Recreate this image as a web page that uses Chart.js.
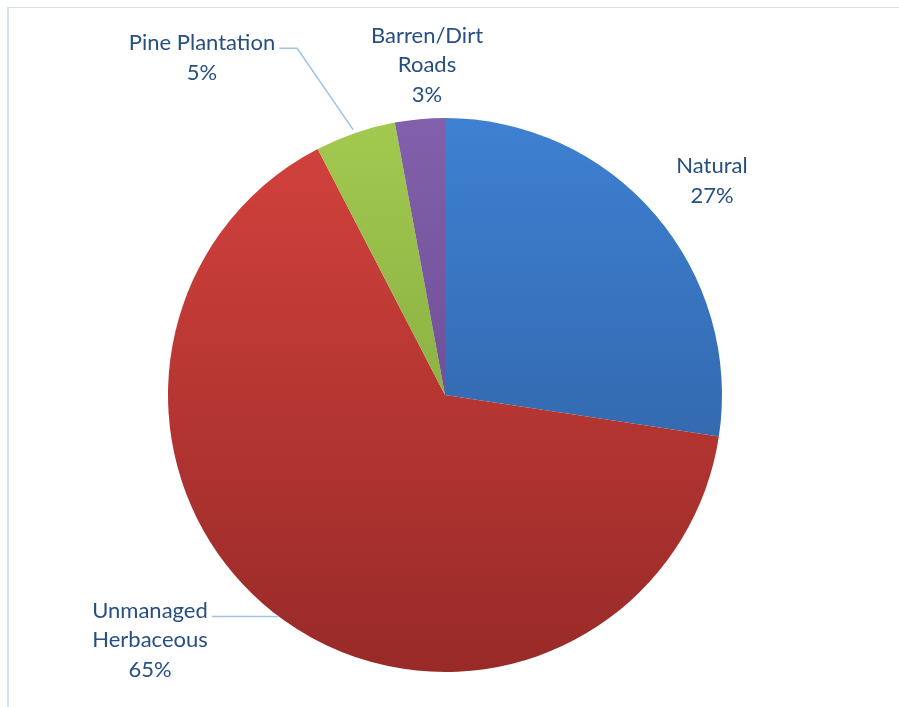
<!DOCTYPE html>
<html>
<head>
<meta charset="utf-8">
<script src="https://cdn.jsdelivr.net/npm/chart.js@4"></script>
<style>
  html, body { margin: 0; padding: 0; background: #fff; }
  #wrap { position: relative; width: 899px; height: 707px; }
  #frame { position: absolute; left: 7px; top: 7px; right: 0; bottom: 0;
           border-top: 1px solid #d5dfec; border-left: 2px solid #d5dfec; }
  canvas { position: absolute; left: 0; top: 0; }
</style>
</head>
<body>
<div id="wrap">
  <div id="frame"></div>
  <canvas id="landUseChart" width="899" height="707"></canvas>
</div>
<script>
// Datos del gráfico (en el sentido de las agujas del reloj desde las 12)
const categorias = ['Natural', 'Unmanaged Herbaceous', 'Pine Plantation', 'Barren/Dirt Roads'];
const valores = [27.4, 65.0, 4.7, 2.9];
const etiquetas = [['Natural', '27%'], ['Unmanaged', 'Herbaceous', '65%'], ['Pine Plantation', '5%'], ['Barren/Dirt', 'Roads', '3%']];

// colores degradados: [arriba, abajo]
const colores = [
    ['#3e80d2', '#2c5a97'],
    ['#d4423d', '#982a28'],
    ['#a2c94f', '#769c38'],
    ['#8260ab', '#5e4185']
];

// posiciones de las etiquetas relativas al centro del gráfico (dx, dy del centro del texto)
const labelPos = [
    { dx: 267, dy: -214 },
    { dx: -295, dy: 245 },
    { dx: -243, dy: -337 },
    { dx: -18, dy: -330 }
];

function gradiente(chart, i) {
    const area = chart.chartArea;
    if (!area || !isFinite(area.top) || !isFinite(area.bottom)) return colores[i][0];
    const g = chart.ctx.createLinearGradient(0, area.top, 0, area.bottom);
    g.addColorStop(0, colores[i][0]);
    g.addColorStop(1, colores[i][1]);
    return g;
}

const etiquetasPlugin = {
    id: 'etiquetas',
    afterDatasetsDraw(chart) {
        const ctx = chart.ctx;
        const meta = chart.getDatasetMeta(0);
        const lh = 29.5;
        ctx.save();
        ctx.font = '22px Lato, "Open Sans", sans-serif';
        ctx.fillStyle = '#264f82';
        ctx.textAlign = 'center';
        ctx.textBaseline = 'middle';
        meta.data.forEach((arc, i) => {
            const cx = arc.x, cy = arc.y;
            const lines = etiquetas[i];
            const tx = cx + labelPos[i].dx;
            const ty = cy + labelPos[i].dy;
            const y0 = ty - (lines.length - 1) * lh / 2;
            lines.forEach((t, k) => ctx.fillText(t, tx, y0 + k * lh));

            // línea guía para la porción verde y la roja
            const mid = (arc.startAngle + arc.endAngle) / 2;
            const edgeX = cx + Math.cos(mid) * arc.outerRadius;
            const edgeY = cy + Math.sin(mid) * arc.outerRadius;
            ctx.strokeStyle = '#9fc2e7';
            ctx.lineWidth = 1.5;
            if (i === 2) {
                const w = ctx.measureText(lines[0]).width;
                const sx = tx + w / 2 + 4, sy = y0 + 5;
                ctx.beginPath();
                ctx.moveTo(sx, sy);
                ctx.lineTo(sx + 18, sy);
                ctx.lineTo(edgeX - 2, edgeY - 3);
                ctx.stroke();
            } else if (i === 1) {
                const w = ctx.measureText(lines[0]).width;
                const sx = tx + w / 2 + 4, sy = y0 + 6;
                const dy = sy - cy;
                const ex = cx - Math.sqrt(arc.outerRadius * arc.outerRadius - dy * dy);
                ctx.beginPath();
                ctx.moveTo(sx, sy);
                ctx.lineTo(ex, sy);
                ctx.stroke();
            }
        });
        ctx.restore();
    }
};

document.addEventListener('DOMContentLoaded', function () {
    const ctx = document.getElementById('landUseChart').getContext('2d');
    new Chart(ctx, {
        type: 'pie',
        data: {
            labels: categorias,
            datasets: [{
                data: valores,
                backgroundColor: c => gradiente(c.chart, c.dataIndex),
                borderWidth: 0
            }]
        },
        options: {
            responsive: false,
            animation: false,
            layout: { padding: { top: 118, bottom: 35, left: 168, right: 177 } },
            plugins: {
                legend: { display: false },
                tooltip: { enabled: false }
            }
        },
        plugins: [etiquetasPlugin]
    });
});
</script>
</body>
</html>
